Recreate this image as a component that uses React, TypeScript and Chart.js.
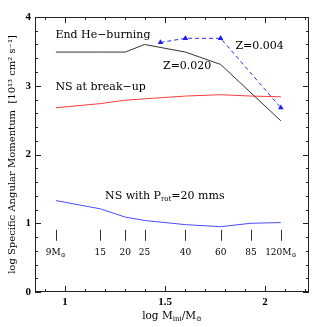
import { useEffect, useRef } from 'react';
import { Chart, registerables } from 'chart.js';
Chart.register(...registerables);

// ---- data ----
const massLabels = ['9', '15', '20', '25', '40', '60', '85', '120'];
const masses = [9, 15, 20, 25, 40, 60, 85, 120];
const z020Masses = [9, 15, 20, 25, 40, 60, 120];
const z020HeBurning = [3.49, 3.49, 3.49, 3.6, 3.49, 3.31, 2.49];
const z004Masses = [30, 40, 60, 120];
const z004HeBurning = [3.63, 3.69, 3.69, 2.68];
const nsBreakup = [2.68, 2.74, 2.79, 2.81, 2.85, 2.87, 2.85, 2.84];
const nsProt20 = [1.33, 1.21, 1.09, 1.04, 0.98, 0.95, 1.0, 1.01];
const xTickValues = [1, 1.5, 2];
const xTickLabels = ['1', '1.5', '2'];
const yTickLabels = ['0', '1', '2', '3', '4'];

const SERIF = '"DejaVu Serif", serif';

type Seg = { t: string; size: number; dy?: number };

function drawRich(ctx: CanvasRenderingContext2D, x: number, y: number, segs: Seg[], align: 'left' | 'center' = 'left') {
  let total = 0;
  const widths: number[] = [];
  for (const s of segs) {
    ctx.font = `${s.size}px ${SERIF}`;
    const w = ctx.measureText(s.t).width;
    widths.push(w);
    total += w;
  }
  let cx = align === 'center' ? x - total / 2 : x;
  segs.forEach((s, i) => {
    ctx.font = `${s.size}px ${SERIF}`;
    ctx.fillText(s.t, cx, y + (s.dy || 0));
    cx += widths[i];
  });
}

const decorPlugin = {
  id: 'decor',
  afterDraw(chart: any) {
    const ctx: CanvasRenderingContext2D = chart.ctx;
    const { left, right, top, bottom } = chart.chartArea;
    const xs = chart.scales.x;
    const ys = chart.scales.y;
    ctx.save();
    ctx.strokeStyle = '#222';
    ctx.lineWidth = 1;
    ctx.strokeRect(left + 0.5, top + 0.5, right - left - 1, bottom - top - 1);
    // x ticks (inward, top and bottom)
    ctx.beginPath();
    for (let i = 9; i <= 22; i++) {
      const v = i / 10;
      const len = i % 5 === 0 ? 6 : 3;
      const px = Math.round(xs.getPixelForValue(v)) + 0.5;
      ctx.moveTo(px, bottom);
      ctx.lineTo(px, bottom - len);
      ctx.moveTo(px, top);
      ctx.lineTo(px, top + len);
    }
    // y ticks
    for (let i = 0; i <= 20; i++) {
      const v = i / 5;
      const len = i % 5 === 0 ? 6 : 3;
      const py = Math.round(ys.getPixelForValue(v)) + 0.5;
      ctx.moveTo(left, py);
      ctx.lineTo(left + len, py);
      ctx.moveTo(right, py);
      ctx.lineTo(right - len, py);
    }
    ctx.stroke();

    // mass markers
    ctx.strokeStyle = '#333';
    ctx.beginPath();
    masses.forEach((m) => {
      const px = Math.round(xs.getPixelForValue(Math.log10(m))) + 0.5;
      ctx.moveTo(px, ys.getPixelForValue(0.905));
      ctx.lineTo(px, ys.getPixelForValue(0.745));
    });
    ctx.stroke();

    ctx.fillStyle = '#000';
    ctx.textBaseline = 'alphabetic';
    const labelY = ys.getPixelForValue(0.588) + 3.5;
    masses.forEach((m, i) => {
      const px = xs.getPixelForValue(Math.log10(m));
      const last = i === 0 || i === masses.length - 1;
      const segs: Seg[] = [{ t: massLabels[i], size: 9 }];
      if (last) {
        segs.push({ t: 'M', size: 9 });
        segs.push({ t: '⊙', size: 6, dy: 2 });
      }
      drawRich(ctx, px, labelY, segs, 'center');
    });

    // annotations
    const at = (lx: number, ly: number) => [xs.getPixelForValue(lx), ys.getPixelForValue(ly) + 4] as const;
    let p = at(0.952, 3.76);
    drawRich(ctx, p[0], p[1], [{ t: 'End He−burning', size: 11 }]);
    p = at(0.952, 3.0);
    drawRich(ctx, p[0], p[1], [{ t: 'NS at break−up', size: 11 }]);
    p = at(1.49, 3.295);
    drawRich(ctx, p[0], p[1], [{ t: 'Z=0.020', size: 11 }]);
    p = at(1.852, 3.6);
    drawRich(ctx, p[0], p[1], [{ t: 'Z=0.004', size: 11 }]);
    p = at(1.2, 1.415);
    drawRich(ctx, p[0], p[1], [
      { t: 'NS with P', size: 11 },
      { t: 'rot', size: 7, dy: 2 },
      { t: '=20 mms', size: 11 },
    ]);

    // x title
    drawRich(ctx, (left + right) / 2, 319, [
      { t: 'log M', size: 10.5 },
      { t: 'ini', size: 7, dy: 2 },
      { t: '/M', size: 10.5 },
      { t: '⊙', size: 7, dy: 2 },
    ], 'center');
    ctx.restore();
  },
};

export default function App() {
  const ref = useRef<HTMLCanvasElement>(null);
  useEffect(() => {
    if (!ref.current) return;
    const pts = (ms: number[], vs: number[]) => ms.map((m, i) => ({ x: Math.log10(m), y: vs[i] }));
    const chart = new Chart(ref.current, {
      type: 'line',
      data: {
        datasets: [
          {
            label: 'End He-burning Z=0.020',
            data: pts(z020Masses, z020HeBurning),
            borderColor: '#333333',
            borderWidth: 1,
            pointRadius: 0,
            tension: 0,
          },
          {
            label: 'End He-burning Z=0.004',
            data: pts(z004Masses, z004HeBurning),
            borderColor: '#2a2aff',
            backgroundColor: '#1a1aff',
            borderWidth: 1,
            borderDash: [4, 3],
            pointStyle: 'triangle',
            pointRadius: 3.2,
            pointBorderWidth: 0,
            tension: 0,
          },
          {
            label: 'NS at break-up',
            data: pts(masses, nsBreakup),
            borderColor: '#ff3a3a',
            borderWidth: 1,
            pointRadius: 0,
            tension: 0,
          },
          {
            label: 'NS with Prot=20 mms',
            data: pts(masses, nsProt20),
            borderColor: '#4a4aff',
            borderWidth: 1,
            pointRadius: 0,
            tension: 0,
          },
        ],
      },
      options: {
        responsive: false,
        animation: false,
        devicePixelRatio: 1,
        layout: { padding: { top: 17, right: 18, left: 0, bottom: 0 } },
        plugins: { legend: { display: false }, tooltip: { enabled: false } },
        scales: {
          x: {
            type: 'linear',
            min: 0.85,
            max: 2.22,
            grid: { display: false, drawTicks: false },
            border: { display: false },
            afterBuildTicks: (s: any) => {
              s.ticks = xTickValues.map((v) => ({ value: v }));
            },
            afterFit: (s: any) => {
              s.height = 35;
            },
            ticks: {
              padding: 4,
              color: '#000',
              maxRotation: 0,
              font: { family: '"Liberation Serif", serif', size: 11, weight: 'bold' },
              callback: (v: any) => {
                const i = xTickValues.indexOf(Number(v));
                return i >= 0 ? xTickLabels[i] : '';
              },
            },
          },
          y: {
            type: 'linear',
            min: 0,
            max: 4,
            grid: { display: false, drawTicks: false },
            border: { display: false },
            afterFit: (s: any) => {
              s.width = 35;
            },
            ticks: {
              stepSize: 1,
              padding: 4,
              color: '#000',
              font: { family: '"Liberation Serif", serif', size: 11, weight: 'bold' },
              callback: (v: any) => yTickLabels[Math.round(Number(v))] ?? '',
            },
            title: {
              display: true,
              text: 'log Specific Angular Momentum  [10¹³ cm² s⁻¹]',
              color: '#000',
              font: { family: SERIF, size: 10 },
              padding: { top: 6, bottom: 0 },
            },
          },
        },
      },
      plugins: [decorPlugin],
    });
    return () => chart.destroy();
  }, []);
  return (
    <div style={{ position: 'fixed', left: 0, top: 0, width: 327, height: 327, background: '#fff' }}>
      <canvas ref={ref} width={327} height={327} />
    </div>
  );
}
